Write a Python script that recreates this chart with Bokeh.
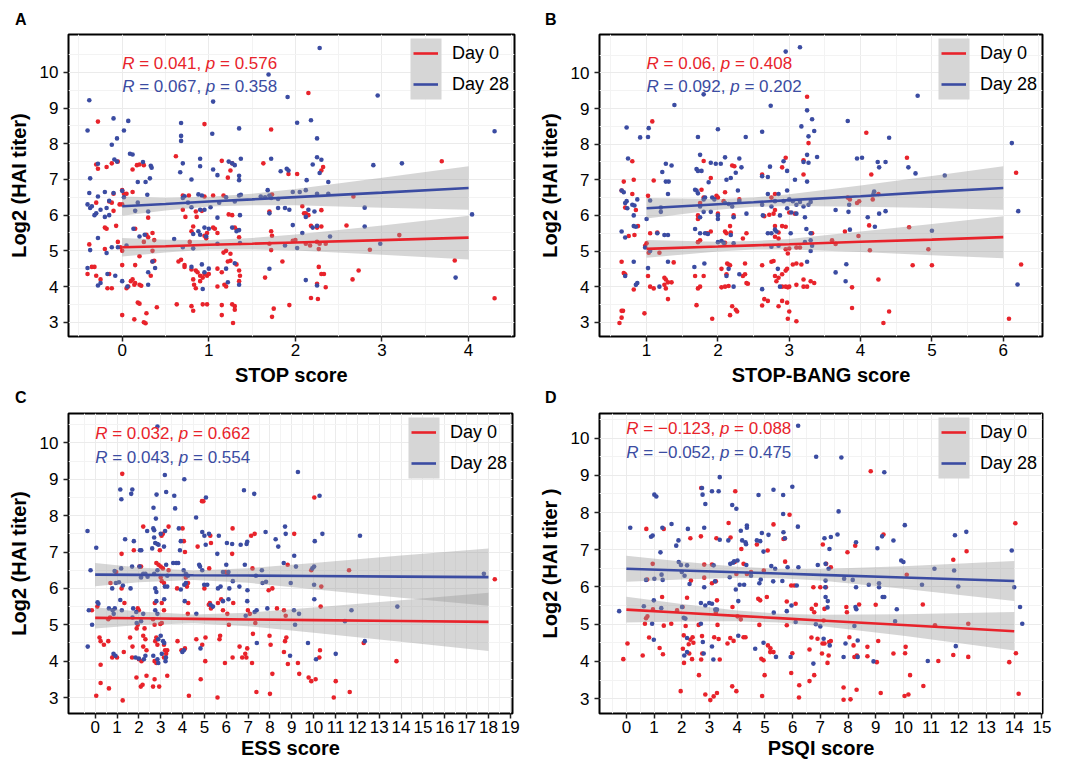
from bokeh.plotting import figure
from bokeh.layouts import column, row
from bokeh.models import Range1d, FixedTicker, Legend, LegendItem, Div
from bokeh.core.properties import value
from bokeh.embed import file_html
from bokeh.resources import INLINE

RED = "#E8232B"
BLUE = "#3B4CA2"
FONT = "Liberation Sans"
SERIES = ["Day 0", "Day 28"]
Y_TICKS = [3, 4, 5, 6, 7, 8, 9, 10]
PANEL_LETTERS = ["A", "B", "C", "D"]

# ---------------- Panel A : STOP score ----------------
A_DAY0 = [(-0.28,8.62),(-0.30,7.42),(-0.28,7.30),(-0.18,7.35),(-0.12,7.45),(-0.05,7.50),(0.12,7.28),(0.17,7.40),(0.20,7.42),(0.25,7.40),
(0.00,6.70),(0.02,6.60),(0.05,6.60),(-0.10,6.60),(0.12,6.65),(-0.15,6.38),(-0.12,6.35),(-0.03,6.30),(0.00,6.30),(-0.30,6.35),(-0.10,6.12),(0.30,5.93),
(-0.20,5.65),(-0.18,5.62),(-0.07,5.70),(0.15,5.62),(0.35,5.50),(0.28,5.45),(0.30,5.38),(0.25,5.25),(0.37,5.30),(-0.38,5.18),(-0.20,5.05),(-0.05,5.25),(-0.02,5.10),(0.00,5.00),(0.35,5.00),(0.20,4.85),(0.35,4.70),(0.37,4.72),(0.00,4.60),(-0.35,4.55),(-0.32,4.55),(-0.40,4.35),(-0.30,4.30),(-0.25,4.20),(-0.15,4.35),(-0.17,3.95),(-0.12,3.95),(0.05,3.95),(0.07,4.00),(0.10,4.15),(0.12,4.20),(0.14,4.05),(0.20,4.05),(0.15,4.10),(0.22,4.02),(0.15,4.60),(0.33,4.30),
(0.00,3.20),(0.14,3.08),(0.18,3.55),(0.20,3.52),(0.25,3.00),(0.27,2.97),(0.28,3.25),(0.40,3.42),
(0.95,8.55),(0.62,7.65),(1.15,7.52),(1.25,7.25),(1.22,7.05),(1.27,7.45),(0.70,6.55),(0.77,6.55),(0.95,6.52),(1.05,6.55),(1.17,6.55),(0.70,6.15),(0.85,6.10),(0.92,6.12),(1.23,6.02),(1.27,6.00),(0.73,5.95),(0.86,5.95),(0.82,5.68),(1.05,5.65),(1.07,5.62),(0.80,5.55),(1.10,5.50),(0.95,5.42),(0.97,5.35),(0.98,5.50),(1.30,5.65),(1.33,5.58),(1.35,5.38),(1.20,5.00),(1.17,4.95),(1.25,4.92),(0.78,5.25),
(0.65,4.70),(0.68,4.75),(0.72,4.60),(0.80,4.48),(0.72,4.55),(0.85,4.45),(0.87,4.40),(0.90,4.30),(0.93,4.25),(0.95,4.35),(0.98,4.30),(1.00,4.35),(0.82,4.20),(0.83,4.05),(0.85,3.95),(0.90,4.15),(1.10,4.50),(1.15,4.40),(1.10,4.00),(1.20,4.00),(1.18,4.05),(1.35,4.45),(1.36,4.30),(1.35,4.15),(1.25,4.72),(1.22,4.70),(1.32,4.62),
(0.63,3.50),(0.80,3.45),(0.82,3.32),(0.93,3.50),(0.98,3.50),(1.15,3.48),(1.15,3.20),(1.27,3.50),(1.30,3.45),(1.30,3.35),(1.28,2.98),
(2.15,9.42),(1.72,8.40),(1.63,7.45),(1.92,7.15),(2.02,7.15),(2.32,7.35),(2.30,7.25),(1.73,6.58),(1.70,6.10),(2.08,6.25),(2.10,6.05),(2.12,6.05),(2.15,6.00),(2.30,6.14),(2.18,5.70),(2.25,5.65),(2.30,5.68),(1.72,5.55),(1.73,5.42),(1.70,5.20),(1.72,5.02),(1.97,5.28),(2.00,5.30),(2.12,5.20),(2.17,5.15),(2.25,5.25),(2.27,5.05),(2.28,5.20),(2.35,5.20),(1.85,4.70),(2.27,4.55),(2.30,4.35),(2.33,4.35),(2.25,4.08),(2.35,3.98),(1.65,4.25),(2.18,3.68),(2.26,3.65),(1.93,3.48),(1.75,3.38),(1.73,3.15),
(2.59,5.71),(2.66,4.20),(2.73,4.45),(2.67,6.52),(2.86,5.03),(3.20,5.44),(3.69,7.51),(3.84,4.73),(4.30,3.67)]

A_DAY28 = [(-0.38,9.22),(-0.40,8.37),(-0.10,8.71),(0.07,8.64),(0.02,8.37),(-0.06,8.15),(-0.12,7.97),(-0.09,7.56),(-0.06,7.50),(-0.28,7.44),(-0.37,7.03),(0.09,7.72),(0.12,7.70),(0.18,6.93),(0.24,7.49),(0.27,6.93),(0.33,7.38),(0.34,7.33),(0.32,7.03),(0.29,6.57),
(-0.38,6.62),(-0.40,6.30),(-0.37,6.20),(-0.35,6.25),(-0.30,6.05),(-0.32,6.00),(-0.28,6.52),(-0.20,6.65),(-0.15,6.40),(-0.18,6.20),(-0.20,5.95),(-0.15,6.00),(-0.25,6.15),(-0.10,6.62),(0.00,6.68),(0.02,6.50),(0.15,6.12),(0.18,6.35),(0.30,6.10),(0.13,5.62),(0.20,5.40),(0.26,5.45),(-0.28,5.36),(-0.37,5.02),(-0.18,4.94),(-0.12,5.10),(-0.05,5.10),(0.05,5.15),(-0.40,4.52),(-0.17,4.35),(-0.08,4.30),(0.00,4.15),(0.06,4.00),(-0.28,4.03),(-0.25,4.10),(0.30,4.05),(0.30,4.40),(0.38,4.52),(0.35,4.70),
(0.68,8.58),(0.68,8.22),(0.68,8.08),(1.05,9.18),(1.04,8.28),(1.35,8.43),(0.70,7.45),(0.67,7.20),(0.80,7.00),(0.90,7.58),(0.90,7.37),(1.05,7.28),(1.10,7.12),(1.23,7.50),(1.27,7.45),(1.30,7.40),(1.37,7.58),(1.35,7.10),(1.35,6.98),
(0.70,6.48),(0.72,6.53),(0.76,6.35),(0.80,6.22),(0.88,6.58),(0.92,6.55),(0.95,6.15),(0.90,6.15),(1.02,6.22),(1.12,6.35),(1.20,6.50),(1.30,6.38),(1.35,6.55),(1.37,6.57),(1.36,6.00),(1.10,5.93),(0.60,5.33),(0.82,5.47),(0.88,5.55),(0.90,5.45),(0.95,5.65),(1.00,5.62),(0.97,5.40),(1.27,5.65),(1.32,5.55),(1.35,5.58),(1.10,5.20),(1.36,5.22),(0.82,5.07),(0.70,5.10),(0.92,4.62),(1.00,4.50),(0.80,4.55),(0.95,4.40),(0.93,3.93),(1.20,4.50),(1.22,4.12),(1.30,4.65),(1.35,4.05),
(1.69,9.94),(1.91,9.31),(2.02,8.59),(2.18,8.66),(2.28,10.68),(2.25,8.15),(1.72,7.58),(1.90,7.30),(1.92,7.25),(1.83,7.23),(2.25,7.62),(2.30,7.55),(2.20,7.42),(2.13,6.98),(2.28,7.18),(2.38,6.93),
(1.68,6.70),(1.60,6.52),(1.65,6.50),(1.70,6.55),(1.72,6.48),(1.80,6.45),(1.97,6.65),(2.05,6.65),(2.12,6.70),(2.25,6.60),(2.38,6.60),(1.70,6.05),(1.88,6.20),(1.93,6.15),(1.80,6.20),(2.15,6.15),(2.22,6.10),(2.12,5.95),(1.97,5.72),(2.08,5.50),(2.20,5.65),(2.25,5.70),(2.40,5.40),(1.88,5.15),(2.02,5.08),(1.70,4.50),(2.12,4.18),(2.25,4.03),
(2.80,6.21),(2.80,5.68),(2.98,5.20),(2.90,7.40),(2.95,9.35),(3.23,7.45),(3.85,4.25),(4.04,6.02),(4.30,8.35)]

A_FIT_X = [0, 0.5, 1, 1.5, 2, 3, 4]
A_FIT0 = [5.10, 5.13, 5.17, 5.20, 5.235, 5.30, 5.37]
A_LO0 = [4.84, 4.95, 5.04, 5.04, 5.01, 4.89, 4.76]
A_HI0 = [5.36, 5.31, 5.30, 5.36, 5.46, 5.71, 5.98]
A_FIT28 = [6.25, 6.31, 6.38, 6.44, 6.505, 6.63, 6.76]
A_LO28 = [5.98, 6.13, 6.245, 6.28, 6.275, 6.21, 6.15]
A_HI28 = [6.52, 6.49, 6.515, 6.60, 6.735, 7.05, 7.37]
A_STATS = [("0.041", "0.576"), ("0.067", "0.358")]

# ---------------- Panel B : STOP-BANG score ----------------
B_DAY0 = [(1.08,8.64),(0.80,7.52),(0.82,7.00),(1.10,6.98),(0.65,6.70),(0.68,6.95),(0.80,6.60),(0.85,6.15),(0.70,6.22),(1.02,6.55),(0.75,5.42),(0.88,5.70),(0.83,5.45),(1.05,5.50),(1.15,5.52),(1.18,4.95),(1.00,5.22),(0.98,5.15),(1.03,4.95),(0.65,4.70),(0.68,4.38),(0.70,4.35),(0.82,3.92),(1.02,4.30),(1.05,4.00),(1.10,3.95),(1.25,4.25),(1.27,4.20),(1.25,4.05),(1.27,3.95),(1.30,4.12),(1.35,4.12),(1.38,4.68),(1.30,3.65),(0.65,3.32),(0.67,3.32),(0.62,2.98),(0.65,3.13),(0.97,3.25),
(1.80,7.53),(1.77,6.72),(1.90,7.05),(1.80,6.50),(1.75,6.35),(1.72,6.00),(1.72,5.90),(1.75,5.30),(1.72,5.25),(1.85,5.50),(1.90,5.55),(1.98,6.55),(2.00,6.50),(2.08,6.40),(2.10,5.55),(2.12,5.50),(2.00,6.05),(2.10,5.23),(2.17,5.70),(2.18,5.52),(2.22,6.00),(2.20,7.40),(2.23,7.38),(2.10,6.65),(2.30,6.45),(2.35,5.35),(2.40,5.50),(2.38,4.65),(2.35,4.30),(2.38,4.35),(2.13,4.65),(2.15,4.62),(2.17,4.60),(2.05,4.50),(2.12,4.35),(2.10,4.00),(2.05,3.98),(2.15,4.02),(2.40,4.10),(2.42,4.08),(1.75,4.00),(1.72,3.95),(1.80,4.30),(1.68,4.30),(1.70,3.48),(2.20,3.45),(2.17,3.20),(2.25,3.35),(2.27,3.30),(1.92,3.10),
(3.25,9.33),(3.27,8.03),(3.20,7.55),(3.20,7.15),(2.95,7.62),(2.90,7.35),(2.62,7.15),(2.75,6.50),(2.80,6.60),(2.72,6.02),(2.78,6.05),(2.80,6.15),(2.65,5.98),(3.00,6.08),(3.08,6.05),(2.80,5.70),(2.85,5.52),(2.90,5.70),(2.95,5.68),(2.80,5.40),(2.85,5.35),(3.00,5.07),(2.95,5.05),(3.10,5.10),(2.98,4.93),(3.15,5.10),(2.75,4.70),(2.78,4.72),(2.62,4.60),(2.80,4.30),(2.82,4.15),(2.85,4.25),(2.90,4.35),(2.97,4.50),(2.95,4.45),(3.05,4.62),(3.10,4.65),(3.17,4.62),(2.90,4.00),(2.95,4.00),(2.98,3.98),(3.00,4.00),(3.10,4.05),(3.20,4.00),(3.25,4.00),(3.30,4.15),(3.35,4.10),(3.20,4.20),(2.65,3.65),(2.70,3.60),(2.62,3.47),(2.85,3.45),(2.90,3.60),(2.97,3.55),(3.00,3.30),(2.98,3.10),(3.10,3.03),(3.32,5.50),
(3.60,5.30),(3.65,5.20),(3.78,5.55),(3.82,6.50),(3.85,6.45),(3.95,6.35),(3.98,6.40),(4.08,8.32),(4.15,7.15),(4.12,5.72),(4.13,5.02),(3.97,5.42),(4.17,6.45),(4.25,6.60),(3.88,3.98),(3.88,3.40),(4.25,4.20),(4.32,2.98),(4.40,3.30),(4.65,7.62),(4.68,5.67),(4.73,4.60),(4.95,5.05),(5.00,4.60),(6.08,3.10),(6.18,7.20),(6.25,4.62)]

B_DAY28 = [(0.72,8.47),(0.74,7.60),(0.91,8.19),(1.03,8.45),(1.02,8.20),(1.39,9.10),(1.80,9.40),(1.22,7.22),(1.27,7.45),(1.35,7.40),(1.27,6.95),(1.31,6.95),(1.30,6.60),(0.65,6.70),(0.68,6.65),(0.72,6.40),(0.70,6.35),(0.73,6.20),(0.80,6.30),(0.83,6.28),(0.82,6.00),(0.87,6.45),(1.05,6.42),(1.20,6.22),(1.20,6.10),(0.82,5.70),(0.85,5.68),(0.65,5.55),(0.70,5.38),(1.00,5.90),(1.15,5.50),(1.25,5.45),(1.30,5.45),(1.05,5.00),(0.98,5.10),(0.82,4.70),(0.87,4.10),(0.85,4.05),(0.70,4.30),(1.02,4.52),(1.18,4.00),(1.30,4.70),
(1.70,7.30),(1.72,7.25),(1.77,7.25),(1.75,7.70),(1.72,8.20),(1.90,7.48),(1.87,6.93),(2.00,8.42),(1.97,7.45),(2.04,7.45),(2.10,7.63),(2.12,7.00),(2.18,7.05),(2.25,7.20),(2.30,7.60),(2.33,7.35),(2.39,8.20),
(1.68,6.72),(1.70,6.70),(1.72,6.62),(1.75,6.25),(1.80,6.45),(1.82,6.50),(1.80,6.10),(1.90,6.10),(1.75,5.95),(1.68,5.62),(1.75,5.50),(1.82,5.50),(1.86,5.48),(1.92,6.50),(1.95,6.45),(2.00,6.00),(2.00,5.90),(2.10,6.35),(2.15,6.32),(2.20,6.25),(2.22,5.95),(2.28,6.70),(2.30,6.40),(2.40,6.05),(2.00,5.25),(2.05,5.28),(2.18,5.45),(2.08,5.23),(2.22,5.22),(1.67,4.55),(1.81,4.65),(2.12,4.30),(2.15,4.50),(2.22,4.00),(2.30,4.35),
(2.62,8.35),(2.74,9.08),(2.95,10.60),(3.15,10.72),(3.25,8.95),(3.32,8.70),(3.17,8.50),(3.35,8.37),(3.27,8.22),(3.39,7.64),(3.20,7.50),(3.27,7.48),(3.25,7.70),(2.92,7.52),(2.73,7.37),(2.62,7.10),(2.70,7.08),(2.97,7.25),(3.08,7.00),(3.25,6.95),(2.70,6.60),(2.85,6.60),(2.97,6.70),(2.62,6.30),(2.75,6.25),(2.80,6.40),(2.92,6.40),(3.00,6.45),(3.10,6.30),(3.05,6.40),(3.15,6.38),(3.20,6.25),(3.27,6.30),(3.30,6.38),(2.63,6.00),(2.70,5.50),(2.75,5.50),(2.80,5.60),(2.82,5.55),(2.87,6.00),(2.97,6.20),(3.03,6.08),(3.10,6.05),(3.22,5.95),(2.85,5.15),(2.75,5.12),(3.02,5.50),(3.24,5.62),(3.30,5.50),(3.32,5.15),(3.22,5.25),(3.30,5.30),(3.25,4.70),(2.84,4.50),(2.87,4.00),(2.62,3.93),(3.30,5.00),
(3.65,6.15),(3.83,6.10),(3.84,6.30),(3.85,5.60),(3.82,8.65),(3.95,7.60),(4.02,7.62),(4.24,7.50),(4.35,7.50),(4.40,8.18),(4.26,7.35),(4.18,6.60),(4.19,6.67),(4.10,5.95),(4.20,5.68),(4.26,6.05),(4.35,6.12),(3.65,4.40),(3.80,4.63),(3.79,4.15),(4.67,7.35),(4.77,7.18),(4.80,9.36),(5.00,5.57),(5.18,7.12),(6.12,8.03),(6.21,6.12),(6.20,4.06)]

B_FIT_X = [1, 2, 2.5, 3, 4, 5, 6]
B_FIT0 = [5.06, 5.126, 5.16, 5.19, 5.26, 5.32, 5.39]
B_LO0 = [4.81, 4.99, 5.04, 5.04, 4.97, 4.88, 4.80]
B_HI0 = [5.31, 5.26, 5.28, 5.34, 5.55, 5.76, 5.98]
B_FIT28 = [6.20, 6.314, 6.37, 6.43, 6.54, 6.66, 6.77]
B_LO28 = [5.91, 6.16, 6.24, 6.265, 6.24, 6.21, 6.16]
B_HI28 = [6.49, 6.46, 6.50, 6.595, 6.84, 7.11, 7.38]
B_STATS = [("0.06", "0.408"), ("0.092", "0.202")]

# ---------------- Panel C : ESS score ----------------
C_DAY0 = [(-0.15,5.40),(0.10,5.50),(0.05,3.05),(0.20,4.65),(0.25,4.55),(0.25,3.90),(0.25,3.40),(0.40,4.45),(0.60,4.55),(0.70,6.15),(0.60,5.15),(0.68,5.20),(0.63,3.25),(0.78,4.10),(0.86,4.15),(1.00,4.10),(0.96,6.45),(1.24,9.15),(1.21,6.95),(1.21,6.00),(1.34,5.60),(1.31,4.25),(1.26,2.92),(1.60,4.65),(1.71,4.40),(1.69,4.10),(1.77,7.05),(1.95,5.45),(2.00,5.40),(1.95,5.00),(1.90,4.90),(1.89,3.55),(2.00,4.05),(2.12,4.00),(2.09,3.30),(2.17,3.35),(2.03,6.60),(2.10,6.60),(2.20,7.70),(2.20,4.70),(2.30,4.60),(2.20,4.40),(2.26,4.90),(2.35,4.30),(2.35,3.60),
(2.65,5.15),(2.72,5.00),(2.73,5.60),(2.80,6.70),(2.80,4.65),(2.75,4.55),(2.85,4.45),(2.72,4.00),(2.80,3.95),(2.65,3.30),(2.72,3.50),(2.93,3.30),(2.96,7.05),(3.04,7.45),(3.10,7.50),(2.90,6.65),(3.00,6.60),(3.10,6.55),(3.00,6.30),(3.05,6.20),(3.15,6.15),(3.05,5.05),(2.98,5.02),(3.05,5.60),(3.15,5.40),(3.15,4.45),(3.20,4.30),(3.25,4.20),(3.30,4.30),(3.15,4.10),(3.30,3.60),(3.36,7.70),(3.36,6.50),(3.75,6.00),(3.77,4.55),(3.95,4.30),(4.00,7.65),(4.06,7.30),(4.11,7.00),(4.15,6.30),(4.25,6.15),(4.20,6.05),(4.26,5.60),(4.24,5.30),(4.11,4.35),(4.29,3.05),
(4.63,4.60),(4.69,7.15),(4.89,8.40),(4.95,8.40),(5.00,6.00),(4.90,4.45),(5.05,4.65),(4.83,3.50),(5.04,4.00),(5.27,7.45),(5.30,7.25),(5.22,6.55),(5.20,5.55),(5.30,5.45),(5.25,5.60),(5.35,5.50),(5.62,5.60),(5.69,4.60),(5.72,4.70),(5.60,3.00),(5.77,5.70),(5.85,5.40),(6.05,5.30),(5.95,6.45),(6.06,6.40),(6.12,5.00),(5.94,3.95),(6.27,6.95),(6.29,7.65),(6.32,5.60),(6.29,4.10),
(6.61,4.40),(6.73,4.10),(6.87,4.20),(6.92,4.10),(6.96,4.35),(6.99,5.40),(7.08,5.30),(7.14,7.45),(7.30,7.50),(7.20,6.55),(7.22,4.75),(7.18,3.95),(7.33,5.05),(7.38,3.15),(7.94,5.95),(8.11,6.00),(7.98,4.70),(8.03,4.45),(8.11,3.65),(8.00,3.10),(8.32,5.45),(8.64,5.40),(8.72,5.25),(8.69,4.55),(8.75,4.65),(8.64,4.25),(8.82,3.92),(8.81,6.65),(9.11,7.50),(9.28,3.95),(9.34,3.65),(9.77,3.55),(9.89,3.45),(10.09,3.50),(9.89,6.50),(10.03,8.50),(10.32,5.50),(10.35,6.05),(10.29,4.30),(10.26,4.10),(10.92,3.00),(11.01,3.45),(11.65,3.15),(11.62,6.50),(12.29,4.50),(13.79,4.00),(18.29,6.25)]

C_DAY28 = [(-0.35,7.58),(-0.21,6.50),(0.05,7.12),(-0.29,5.40),(-0.14,5.00),(0.11,5.62),(0.15,5.58),(-0.34,4.40),(0.63,5.45),(0.80,5.40),(0.90,5.45),(0.85,5.30),(0.78,6.00),(0.95,6.15),(1.09,6.17),(0.89,6.48),(1.19,6.55),(1.15,8.72),(1.20,8.45),(1.37,7.35),(1.27,6.08),(1.15,5.68),(1.22,5.40),(0.84,4.20),(0.93,4.15),
(1.70,8.72),(1.65,8.60),(1.77,7.30),(1.69,6.60),(1.62,6.00),(1.74,5.45),(1.88,5.35),(1.71,5.20),(1.90,5.05),(1.85,4.10),(2.00,4.07),(2.05,7.05),(2.11,7.05),(2.03,6.60),(2.20,6.40),(2.30,6.40),(2.40,6.32),(2.10,6.30),(2.10,5.10),(2.20,5.30),(2.23,4.05),(2.30,4.15),
(2.38,7.58),(2.61,7.10),(2.67,8.22),(2.81,8.58),(2.78,7.92),(2.66,7.65),(2.70,7.60),(2.70,7.40),(2.75,7.25),(2.85,7.22),(2.85,10.45),(2.90,7.20),(3.00,7.50),(2.70,6.40),(2.85,6.50),(2.75,6.00),(2.80,5.90),(2.80,5.65),(2.85,5.30),(2.75,5.40),(2.89,4.60),(3.00,4.70),(2.66,4.15),(2.85,4.05),(2.89,3.95),(3.05,4.20),
(3.19,9.12),(3.25,8.65),(3.20,7.58),(3.15,7.15),(3.25,6.65),(3.30,6.35),(3.19,6.05),(3.30,6.05),(3.16,5.70),(3.11,4.55),(3.16,4.50),(3.22,4.00),(3.24,4.10),
(3.62,8.55),(3.66,8.20),(3.57,6.70),(3.71,6.70),(3.80,6.70),(3.83,7.65),(3.92,7.30),(3.88,7.05),(4.05,6.50),(4.15,6.40),(4.25,6.35),(4.15,6.15),(3.92,5.97),(4.08,6.10),(3.99,4.25),(4.06,4.30),(4.08,9.00),(4.10,5.65),
(4.62,7.95),(4.90,7.55),(5.00,7.45),(5.07,8.50),(5.21,7.50),(5.06,7.20),(4.76,6.65),(4.80,6.60),(4.90,6.50),(4.99,6.10),(5.13,6.10),(5.28,5.55),(5.39,5.50),(4.63,5.30),(4.82,4.35),
(5.59,6.95),(5.66,7.45),(5.62,6.00),(5.74,6.05),(5.85,6.45),(6.00,6.65),(6.10,6.45),(5.85,5.65),(6.10,5.70),(6.03,7.25),(6.27,7.22),(6.14,6.00),(6.30,6.20),
(6.81,8.70),(7.28,8.60),(6.93,7.22),(6.96,7.28),(6.66,7.20),(6.85,6.65),(6.60,6.05),(6.97,5.95),(6.96,5.65),(7.36,6.35),(7.39,5.40),(7.30,5.35),(6.89,5.25),(7.63,6.50),(7.80,7.55),(7.66,6.15),(7.82,6.18),(7.40,4.50),(7.88,5.45),(8.26,7.35),(8.38,7.15),(8.69,7.70),(8.72,7.50),(8.63,6.70),(8.95,6.15),(9.19,6.60),(9.11,6.90),(9.28,9.20),(9.10,5.40),(9.33,5.30),(9.15,5.00),(8.92,4.15),(9.74,4.50),(9.94,6.55),(10.02,6.10),(10.02,6.60),(10.05,7.30),(10.27,8.55),(10.40,7.50),(10.03,5.70),(10.11,4.05),(11.01,4.20),(11.43,5.10),(11.73,5.40),(12.12,7.45),(12.34,4.55),(13.83,5.50),(17.79,6.40)]

C_FIT_X = [0, 2, 4.5, 7, 10, 14, 18]
C_FIT0 = [5.19, 5.178, 5.163, 5.147, 5.129, 5.105, 5.08]
C_LO0 = [4.90, 4.993, 5.043, 4.962, 4.784, 4.535, 4.28]
C_HI0 = [5.48, 5.363, 5.283, 5.332, 5.474, 5.675, 5.88]
C_FIT28 = [6.38, 6.372, 6.362, 6.353, 6.34, 6.325, 6.31]
C_LO28 = [6.06, 6.172, 6.232, 6.153, 5.98, 5.745, 5.52]
C_HI28 = [6.70, 6.572, 6.492, 6.553, 6.70, 6.905, 7.10]
C_STATS = [("0.032", "0.662"), ("0.043", "0.554")]

# ---------------- Panel D : PSQI score ----------------
D_DAY0 = [(-0.11,4.06),(0.04,4.48),(0.59,4.16),(0.67,5.01),(0.71,5.16),(0.76,5.21),(0.72,7.56),(0.75,6.20),(0.82,4.64),(0.95,6.62),(0.96,5.40),(1.20,4.36),(1.29,5.73),(1.35,4.96),(1.32,4.19),(1.35,7.56),(1.62,5.01),(1.83,5.37),(1.96,3.20),(2.03,5.46),(2.07,4.70),(2.04,4.34),(2.08,3.96),(2.14,4.95),(2.19,5.71),(2.25,4.46),(2.31,4.58),(2.39,4.65),(2.42,4.50),(2.27,4.21),(2.37,4.06),(2.33,6.17),(2.31,7.31),
(2.62,3.63),(2.70,8.66),(2.69,7.36),(2.61,4.98),(2.73,4.68),(2.74,4.21),(2.70,4.05),(2.81,6.60),(2.81,6.25),(2.85,3.11),(3.09,6.60),(3.09,6.10),(3.23,6.15),(3.27,5.64),(3.23,5.31),(3.25,7.31),(3.17,4.65),(3.33,4.60),(3.29,4.98),(3.03,2.96),(3.15,3.06),(3.27,3.15),(3.37,4.05),
(3.69,7.72),(3.76,7.33),(3.87,4.55),(3.75,4.63),(3.65,4.48),(3.82,3.33),(3.97,3.20),(3.83,5.46),(3.91,6.67),(3.97,6.35),(3.93,8.57),(4.01,5.21),(4.13,5.13),(4.23,4.65),(4.30,4.65),(4.15,7.02),(4.23,6.62),(4.35,6.35),(4.50,6.40),
(4.71,7.14),(4.76,5.68),(4.83,5.64),(4.80,4.98),(4.87,4.07),(4.95,4.03),(4.90,3.07),(5.07,5.73),(5.10,6.98),(4.96,6.44),(5.11,4.43),(5.20,4.35),(4.99,3.63),(5.31,7.68),(5.19,4.25),(5.31,4.25),
(5.73,6.68),(5.67,7.29),(5.72,7.30),(5.79,5.61),(5.79,4.97),(5.89,7.94),(5.95,6.04),(6.06,6.04),(6.11,5.55),(5.99,4.22),(5.95,3.69),(6.24,3.36),(6.23,3.03),
(6.69,5.41),(6.78,5.32),(6.68,4.64),(6.61,4.32),(6.61,3.47),(6.78,3.63),(6.75,5.99),(7.00,5.99),(6.84,5.52),(6.90,4.61),(7.06,4.21),(7.12,5.10),(7.08,4.48),(7.15,4.48),(7.21,6.62),(7.15,5.41),(7.09,7.14),(7.20,5.99),(7.30,4.16),(7.26,3.96),(7.32,4.52),(7.38,4.55),(7.38,6.53),
(7.84,3.30),(7.84,2.97),(7.94,5.46),(7.98,6.93),(7.96,5.32),(8.05,4.65),(8.20,4.43),(8.23,4.12),(8.32,4.16),(8.40,5.53),(8.26,7.11),(8.09,2.98),(8.31,3.24),(8.70,4.39),(8.70,4.14),(8.82,9.11),(9.00,5.52),(9.09,4.55),(9.04,3.98),(9.28,7.41),(9.18,3.15),(9.64,4.21),
(10.04,3.07),(10.18,3.11),(10.06,4.22),(10.08,4.39),(10.12,6.33),(10.24,3.63),(10.72,3.34),(10.70,5.53),(11.14,4.97),(11.26,4.01),(11.80,6.73),(11.80,4.17),(12.28,6.96),(12.34,5.01),(12.34,4.12),(13.82,3.98),(14.04,7.71),(14.06,4.22),(14.16,3.13)]

D_DAY28 = [(-0.26,5.35),(0.14,7.59),(0.63,5.48),(1.01,8.48),(1.08,8.43),(0.89,7.35),(0.95,7.38),(1.01,6.22),(0.99,5.64),(0.93,5.01),(0.99,4.58),(0.71,6.19),(1.23,6.93),(1.30,7.59),(1.27,6.33),(1.31,6.19),(1.26,5.43),(1.63,7.69),(1.80,7.11),(1.88,7.25),(1.89,6.67),(1.97,6.59),(2.00,6.40),(2.10,6.30),(2.01,5.46),(2.07,5.17),(2.13,5.15),(2.09,4.16),(2.19,4.25),(2.22,7.56),(2.19,6.58),(2.28,6.08),(2.19,4.63),
(2.73,8.66),(2.75,8.48),(2.85,8.23),(2.81,7.59),(2.81,5.99),(2.69,5.57),(2.85,5.50),(2.69,5.01),(2.76,4.52),(2.79,4.21),(3.09,8.57),(3.33,8.57),(3.37,8.95),(3.37,7.27),(3.15,6.58),(3.20,6.15),(2.99,5.57),(3.09,5.55),(3.21,5.39),(3.27,5.39),(3.09,4.40),(3.14,4.05),
(3.68,7.25),(3.75,6.62),(3.85,6.65),(3.73,6.26),(3.82,8.20),(3.97,8.10),(3.89,6.69),(4.01,6.71),(3.95,5.93),(4.09,6.06),(4.25,6.06),(4.04,5.62),(4.04,4.69),(4.13,7.51),(4.18,7.25),(4.30,7.20),(4.32,7.15),(4.35,7.65),(4.35,7.59),(4.33,6.59),(4.50,6.30),
(4.65,4.34),(4.77,8.47),(4.71,7.25),(4.83,7.23),(4.89,7.45),(4.95,6.95),(4.80,6.10),(4.85,6.20),(4.95,4.50),(5.13,7.40),(5.31,8.61),(5.23,6.56),(5.37,6.49),(5.32,5.31),(5.40,4.12),(5.30,6.15),
(5.66,8.47),(5.66,7.96),(5.67,7.47),(5.72,7.31),(5.63,6.16),(5.79,5.35),(5.82,6.53),(5.93,4.12),(5.99,8.69),(6.19,7.62),(5.96,5.50),(6.21,6.53),(6.15,6.04),(6.20,10.33),(6.11,5.06),
(6.85,9.50),(6.91,6.59),(6.84,5.00),(7.00,4.94),(6.75,3.94),(7.15,7.31),(7.19,6.62),(7.30,6.49),(7.18,5.99),(7.19,5.73),(7.27,5.62),(7.26,5.45),(7.19,6.17),(7.12,4.61),(7.34,4.43),(7.33,7.02),(7.38,7.34),
(7.62,7.41),(7.66,8.03),(7.76,9.48),(7.86,6.22),(7.84,4.12),(7.91,4.48),(8.17,6.19),(8.29,7.20),(8.29,5.99),(8.27,5.46),(8.30,5.40),(8.23,4.95),(8.35,4.56),(8.35,4.12),(8.75,6.06),(9.06,7.04),(9.12,6.10),(9.12,5.99),(9.25,5.73),(9.31,5.73),(9.23,7.36),(9.31,9.08),(8.92,4.00),(9.64,7.25),(9.76,5.40),(9.70,5.08),(9.92,6.71),(10.00,6.67),(10.05,7.66),
(10.67,6.06),(10.88,4.01),(11.12,6.49),(11.83,6.44),(11.86,7.39),(11.89,4.41),(11.98,6.01),(12.27,7.48),(13.91,6.98),(14.00,5.99),(14.21,5.46),(14.29,5.01)]

D_FIT_X = [0, 2, 4, 5.5, 7, 10, 14]
D_FIT0 = [5.39, 5.307, 5.224, 5.162, 5.10, 4.976, 4.81]
D_LO0 = [5.045, 5.072, 5.078, 5.042, 4.95, 4.686, 4.29]
D_HI0 = [5.735, 5.542, 5.37, 5.282, 5.25, 5.266, 5.33]
D_FIT28 = [6.49, 6.443, 6.396, 6.36, 6.325, 6.254, 6.16]
D_LO28 = [6.14, 6.203, 6.246, 6.235, 6.17, 5.954, 5.625]
D_HI28 = [6.84, 6.683, 6.546, 6.485, 6.48, 6.554, 6.695]
D_STATS = [("\u22120.123", "0.088"), ("\u22120.052", "0.475")]

# ---------------- helpers ----------------
ADV = {'R': 0.722, ' ': 0.278, '=': 0.584, '.': 0.278, ',': 0.278, 'p': 0.556, '\u2212': 0.584}


def tw(s, fs):
    return sum(ADV.get(c, 0.556) for c in s) * fs


def letter_div(letter, width, height, top):
    html = ('<span style="display:block;margin-left:15px;margin-top:%dpx;'
            'font-family:\'Liberation Sans\',Arial,sans-serif;font-size:16px;'
            'font-weight:bold;line-height:16px;color:black;">%s</span>' % (top, letter))
    return Div(text=html, width=width, height=height, margin=0,
               styles={"overflow": "visible", "background-color": "white"})


def make_panel(xlabel, ylabel, xr, yr, xticks, d0, d28, fit_x,
               fit0, lo0, hi0, fit28, lo28, hi28, stats, stat_x, geom, row2):
    bl, fw, br, bt, fh, bb = geom
    p = figure(frame_width=fw, frame_height=fh, min_border_left=bl, min_border_right=br,
               min_border_top=bt, min_border_bottom=bb,
               x_range=Range1d(*xr), y_range=Range1d(*yr),
               output_backend="svg", toolbar_location=None)
    p.background_fill_color = "white"
    p.border_fill_color = "white"
    p.outline_line_color = "black"
    p.outline_line_width = 2

    xminor = [t + 0.5 for t in [xticks[0] - 1] + xticks]
    yminor = [t + 0.5 for t in [2] + Y_TICKS]
    p.xaxis.ticker = FixedTicker(ticks=xticks, minor_ticks=xminor)
    p.yaxis.ticker = FixedTicker(ticks=Y_TICKS, minor_ticks=yminor)
    for g in (p.xgrid, p.ygrid):
        g.grid_line_color = "#EBEBEB"
        g.grid_line_width = 1
        g.minor_grid_line_color = "#F3F3F3"
        g.minor_grid_line_width = 1
    for ax in (p.xaxis, p.yaxis):
        ax.axis_line_color = None
        ax.major_tick_out = 5
        ax.major_tick_in = 0
        ax.minor_tick_out = 0
        ax.minor_tick_in = 0
        ax.major_tick_line_color = "#222222"
        ax.major_tick_line_width = 1.5
        ax.major_label_text_font = FONT
        ax.major_label_text_font_size = "17px"
        ax.major_label_text_color = "black"
        ax.axis_label_text_font = FONT
        ax.axis_label_text_font_size = "20px"
        ax.axis_label_text_font_style = "bold"
        ax.axis_label_text_color = "black"
    p.xaxis.axis_label = xlabel
    p.yaxis.axis_label = ylabel
    p.xaxis.major_label_standoff = 2
    p.xaxis.axis_label_standoff = 1 if row2 else 5
    p.yaxis.major_label_standoff = 5
    p.yaxis.axis_label_standoff = 7

    # points
    p.scatter([a for a, b in d0], [b for a, b in d0], size=4.6, fill_color=RED, line_color=None)
    p.scatter([a for a, b in d28], [b for a, b in d28], size=4.6, fill_color=BLUE, line_color=None)

    # smooth bands + lines
    p.varea(x=fit_x, y1=lo0, y2=hi0, fill_color="#999999", fill_alpha=0.4)
    l0 = p.line(fit_x, fit0, line_color=RED, line_width=2.6)
    p.varea(x=fit_x, y1=lo28, y2=hi28, fill_color="#999999", fill_alpha=0.4)
    l28 = p.line(fit_x, fit28, line_color=BLUE, line_width=2.6)

    # legend key background (grey column behind keys)
    def dx(px):
        return xr[0] + px / fw * (xr[1] - xr[0])

    def dy(py):
        return yr[0] + py / fh * (yr[1] - yr[0])

    p.quad(left=[dx(fw - 104)], right=[dx(fw - 73)], top=[dy(fh - 4)], bottom=[dy(fh - 65)],
           fill_color="#D6D6D6", line_color=None)

    legend = Legend(items=[LegendItem(label=SERIES[0], renderers=[l0]),
                           LegendItem(label=SERIES[1], renderers=[l28])],
                    location=(fw - 101, fh - 4 - 61), orientation="vertical",
                    glyph_width=25, glyph_height=30, spacing=1, padding=0, margin=0,
                    label_standoff=14, label_text_font=FONT, label_text_font_size="18px",
                    label_text_color="black", background_fill_alpha=0,
                    border_line_color=None)
    p.add_layout(legend)

    # correlation texts
    fs = 17
    for (rv, pv), yv, col in zip(stats, [10.26, 9.61], [RED, BLUE]):
        s2 = "= " + rv + ","
        s4 = "= " + pv
        o2 = tw("R ", fs)
        o3 = tw("R = " + rv + ", ", fs)
        o4 = o3 + tw("p ", fs)
        for txt, off, style in [("R", 0, "italic"), (s2, o2, "normal"),
                                ("p", o3, "italic"), (s4, o4, "normal")]:
            p.text(x=[stat_x], y=[yv], text=[txt], x_offset=off, text_font=value(FONT),
                   text_font_size="17px", text_font_style=style, text_color=col,
                   text_baseline="middle", text_align="left")
    return p


pa = make_panel("STOP score", "Log2 (HAI titer)", (-0.62, 4.53), (2.6, 11.06), [0, 1, 2, 3, 4],
                A_DAY0, A_DAY28, A_FIT_X, A_FIT0, A_LO0, A_HI0, A_FIT28, A_LO28, A_HI28,
                A_STATS, 0, (68, 446, 16, 8, 302, 54), False)
pb = make_panel("STOP-BANG score", "Log2 (HAI titer)", (0.34, 6.55), (2.6, 11.08), [1, 2, 3, 4, 5, 6],
                B_DAY0, B_DAY28, B_FIT_X, B_FIT0, B_LO0, B_HI0, B_FIT28, B_LO28, B_HI28,
                B_STATS, 1, (69, 443, 22, 8, 302, 54), False)
pc = make_panel("ESS score", "Log2 (HAI titer)", (-1.22, 19.1), (2.56, 10.81), list(range(0, 20)),
                C_DAY0, C_DAY28, C_FIT_X, C_FIT0, C_LO0, C_HI0, C_FIT28, C_LO28, C_HI28,
                C_STATS, 0, (68, 444, 18, 7, 300, 51), True)
pd_ = make_panel("PSQI score", "Log2 (HAI titer )", (-0.97, 15.02), (2.6, 10.66), list(range(0, 16)),
                 D_DAY0, D_DAY28, D_FIT_X, D_FIT0, D_LO0, D_HI0, D_FIT28, D_LO28, D_HI28,
                 D_STATS, 0, (69, 443, 22, 7, 300, 51), True)

la = letter_div(PANEL_LETTERS[0], 530, 26, 12)
lb = letter_div(PANEL_LETTERS[1], 534, 26, 12)
lc = letter_div(PANEL_LETTERS[2], 530, 16, 0)
ld = letter_div(PANEL_LETTERS[3], 534, 16, 0)

layout = column(row(column(la, pa), column(lb, pb)),
                row(column(lc, pc), column(ld, pd_)))
open("out.html", "w").write(file_html(layout, INLINE))
